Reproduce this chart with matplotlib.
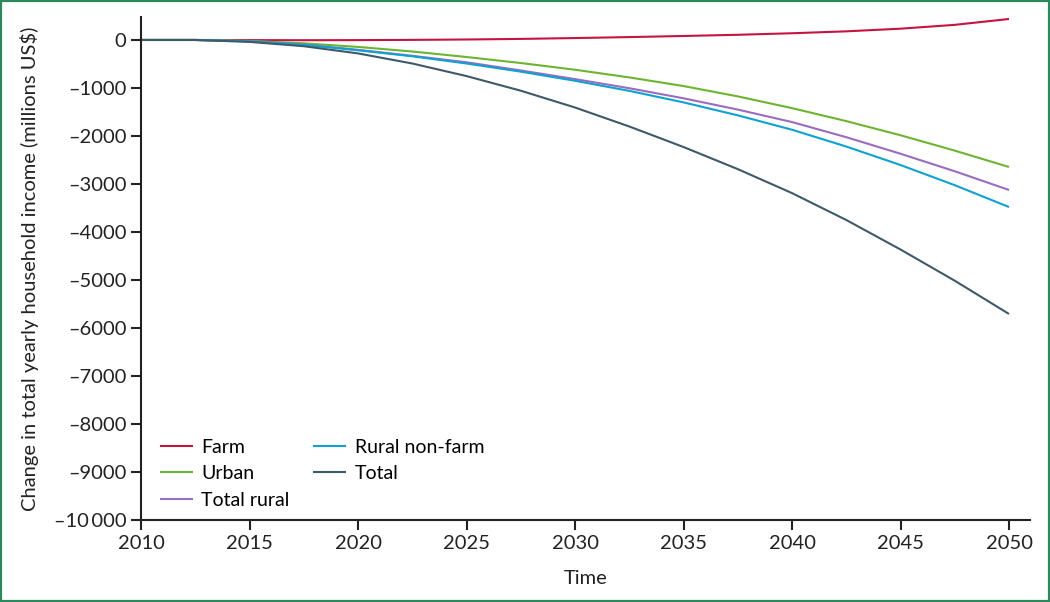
import matplotlib.pyplot as plt
from matplotlib.patches import Rectangle
from matplotlib.ticker import FuncFormatter

plt.rcParams["font.family"] = ["Lato", "DejaVu Sans"]

YEARS = [2010, 2012.5, 2015, 2017.5, 2020, 2022.5, 2025, 2027.5, 2030,
         2032.5, 2035, 2037.5, 2040, 2042.5, 2045, 2047.5, 2050]

FARM = [0, 0, -3, -5, -3, 2, 10, 22, 40, 60, 83, 108, 140, 180, 235, 315, 437]
URBAN = [0, 0, -20, -70, -145, -240, -355, -480, -620, -780, -960, -1175,
         -1420, -1690, -1985, -2305, -2646]
TOTAL_RURAL = [0, 0, -25, -95, -205, -330, -465, -635, -815, -1005, -1215,
               -1450, -1710, -2025, -2370, -2735, -3125]
RURAL_NONFARM = [0, 0, -30, -100, -215, -340, -490, -660, -850, -1060, -1300,
                 -1570, -1870, -2220, -2605, -3025, -3480]
TOTAL = [0, 0, -40, -130, -280, -490, -752, -1057, -1407, -1802, -2230,
         -2690, -3190, -3750, -4365, -5015, -5708]

SERIES = [
    ("Farm", FARM, "#c4143f"),
    ("Urban", URBAN, "#6cb52e"),
    ("Total rural", TOTAL_RURAL, "#9a6cc0"),
    ("Rural non-farm", RURAL_NONFARM, "#0ea2d2"),
    ("Total", TOTAL, "#3e5a68"),
]

X_TICKS = list(range(2010, 2051, 5))
Y_TICKS = list(range(-10000, 1, 1000))


def fmt_y(v, _pos):
    v = int(round(v))
    s = str(abs(v))
    if abs(v) >= 10000:
        s = s[:-3] + "\u2009" + s[-3:]
    return ("\u2013" if v < 0 else "") + s


def main():
    fig = plt.figure(figsize=(10.5, 6.02), dpi=100)
    ax = fig.add_axes([0.1343, 0.1362, 0.8467, 0.8356])

    for name, vals, color in SERIES:
        ax.plot(YEARS, vals, color=color, lw=1.5, label=name,
                solid_capstyle="butt", solid_joinstyle="round")

    ax.set_xlim(2010, 2050.97)
    ax.set_ylim(-10000, 479)
    ax.set_xticks(X_TICKS)
    ax.set_yticks(Y_TICKS)
    ax.yaxis.set_major_formatter(FuncFormatter(fmt_y))

    for side in ("top", "right"):
        ax.spines[side].set_visible(False)
    for side in ("left", "bottom"):
        ax.spines[side].set_linewidth(1.5)
        ax.spines[side].set_color("#222222")
    ax.tick_params(direction="out", length=7, width=1.5, color="#222222",
                   labelsize=14.5, labelcolor="#222222", pad=3.5)

    ax.set_xlabel("Time", fontsize=14.5, color="#222222", labelpad=13)
    ax.set_ylabel("Change in total yearly household income (millions US$)",
                  fontsize=14.5, color="#222222", labelpad=11)

    ax.legend(ncol=2, frameon=False, fontsize=14, loc="lower left",
              bbox_to_anchor=(0.008, 0.0), handlelength=1.7,
              handletextpad=0.45, columnspacing=1.2, labelspacing=0.48,
              borderaxespad=0.19, borderpad=0.4)

    fig.add_artist(Rectangle((0.001, 0.001), 0.998, 0.997,
                             transform=fig.transFigure, fill=False,
                             edgecolor="#2a8a5c", lw=1.6))

    fig.savefig("out.png", dpi=100)
    plt.close(fig)


if __name__ == "__main__":
    main()
